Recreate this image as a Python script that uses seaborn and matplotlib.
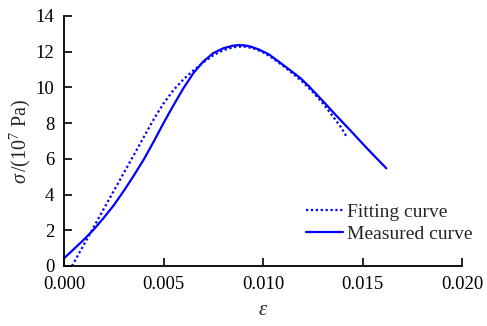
import matplotlib
matplotlib.use("Agg")
import matplotlib.pyplot as plt
import seaborn as sns
import pandas as pd

# Measured curve (strain, stress in 10^7 Pa)
meas_eps = [0.0, 0.0005, 0.0010, 0.0015, 0.0020, 0.0025, 0.0030, 0.0035, 0.0040,
            0.0045, 0.0050, 0.0055, 0.0060, 0.0065, 0.0070, 0.0075, 0.0080, 0.0085,
            0.0088, 0.0091, 0.0094, 0.0098, 0.0103, 0.0110, 0.0115, 0.0119, 0.0123,
            0.0127, 0.0131, 0.0135, 0.0140, 0.0144, 0.0148, 0.0152, 0.0157, 0.0162]
meas_sig = [0.43, 0.95, 1.48, 2.05, 2.70, 3.40, 4.20, 5.05, 5.95,
            6.95, 8.00, 9.00, 9.95, 10.80, 11.45, 11.92, 12.19, 12.34,
            12.37, 12.35, 12.28, 12.12, 11.85, 11.27, 10.85, 10.50, 10.07,
            9.60, 9.13, 8.64, 8.05, 7.58, 7.10, 6.62, 6.04, 5.47]

# Fitting curve
fit_eps = [0.0004, 0.0010, 0.0015, 0.0020, 0.0025, 0.0030, 0.0035, 0.0040, 0.0045,
           0.0050, 0.0055, 0.0060, 0.0065, 0.0070, 0.0075, 0.0080, 0.0085, 0.0090,
           0.0095, 0.0100, 0.0105, 0.0110, 0.0115, 0.0120, 0.0125, 0.0130, 0.0135,
           0.0139, 0.0142]
fit_sig = [0.0, 1.20, 2.20, 3.20, 4.20, 5.20, 6.20, 7.20, 8.20,
           9.10, 9.85, 10.45, 10.95, 11.40, 11.80, 12.08, 12.25, 12.30,
           12.20, 11.97, 11.63, 11.22, 10.78, 10.30, 9.75, 9.12, 8.40,
           7.80, 7.24]

sns.set_style("ticks")
plt.rcParams['font.family'] = ['Liberation Serif', 'DejaVu Serif']
plt.rcParams['mathtext.fontset'] = 'custom'
plt.rcParams['mathtext.rm'] = 'Liberation Serif'
plt.rcParams['mathtext.it'] = 'Liberation Serif:italic'

df_fit = pd.DataFrame({"eps": fit_eps, "sig": fit_sig})
df_meas = pd.DataFrame({"eps": meas_eps, "sig": meas_sig})

fig = plt.figure(figsize=(4.87, 3.26), dpi=100)
ax = fig.add_axes([64/487, 60/326, 398/487, 250/326])

sns.lineplot(data=df_fit, x="eps", y="sig", ax=ax, sort=False, color="#0000ff",
             linestyle=(0, (1, 1.2)), linewidth=1.6, label="Fitting curve")
sns.lineplot(data=df_meas, x="eps", y="sig", ax=ax, sort=False, color="#0000ff",
             linewidth=1.6, label="Measured curve")

ax.set_xlim(0, 0.020)
ax.set_ylim(0, 14)
ax.set_xticks([0.0, 0.005, 0.010, 0.015, 0.020])
ax.set_xticklabels(["0.000", "0.005", "0.010", "0.015", "0.020"])
ax.set_yticks(range(0, 15, 2))
ax.tick_params(direction="in", length=5.5, width=1.2, labelsize=13.5, colors="black")
ax.tick_params(axis="x", pad=7)
ax.tick_params(axis="y", pad=7)
for s in ["left", "bottom"]:
    ax.spines[s].set_linewidth(1.3)
    ax.spines[s].set_color("black")
sns.despine(ax=ax)

ax.set_xlabel(r"$\varepsilon$", fontsize=15, labelpad=6)
ax.set_ylabel(r"$\sigma\,$/(10$^7$ Pa)", fontsize=14.5, labelpad=2)

leg = ax.legend(loc="lower right", bbox_to_anchor=(1.045, 0.06), frameon=False,
                fontsize=14, handlelength=1.9, handletextpad=0.2, labelspacing=0.25,
                borderaxespad=0)

fig.savefig("out.png", dpi=100)
